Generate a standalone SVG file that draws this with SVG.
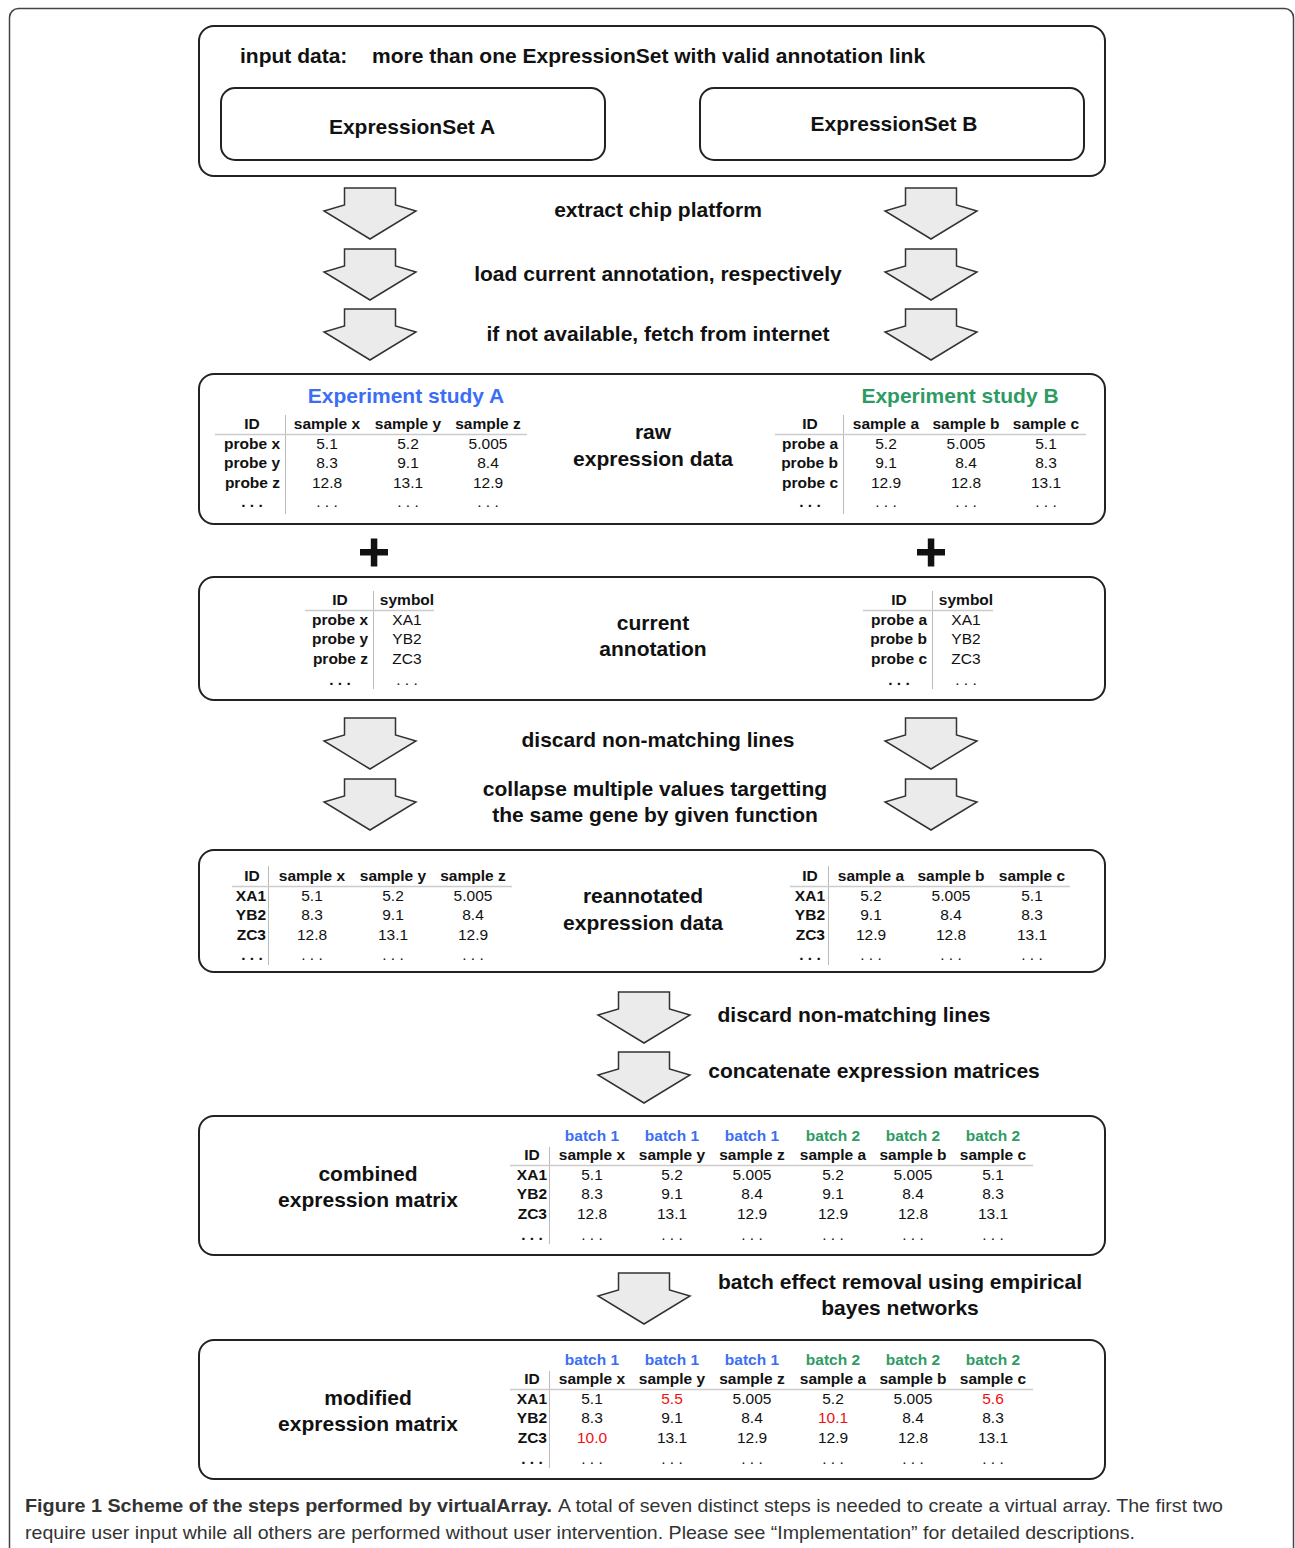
<svg xmlns="http://www.w3.org/2000/svg" xmlns:xlink="http://www.w3.org/1999/xlink" width="1295" height="1548" viewBox="0 0 1295 1548">
<style>
.box{fill:#fff;stroke:#222;stroke-width:2}
.lbl{font-family:"Liberation Sans",Arial,sans-serif;font-weight:bold;font-size:21px;fill:#111}
.c{text-anchor:middle}
.th{font-family:"Liberation Sans",Arial,sans-serif;font-weight:bold;font-size:15.5px;fill:#111;text-anchor:middle}
.rl{font-family:"Liberation Sans",Arial,sans-serif;font-weight:bold;font-size:15.5px;fill:#111;text-anchor:end}
.td{font-family:"Liberation Sans",Arial,sans-serif;font-size:15.5px;fill:#111;text-anchor:middle}
.red{fill:#f01010}
.blue{fill:#3c6ef5}
.green{fill:#2e9b64}
.vl{stroke:#bbb;stroke-width:1}
.hl{stroke:#ccc;stroke-width:1.5}
.arrow{fill:#ebebeb;stroke:#333;stroke-width:1.5;stroke-linejoin:miter}
.cap{font-family:"Liberation Sans",Arial,sans-serif;font-size:19px;fill:#333}
</style>
<defs>
<path id="arr" class="arrow" d="M-25.5,0 L25.5,0 L25.5,17 L46,23 L0,51 L-46,23 L-25.5,17 Z"/>
</defs>
<rect x="9.5" y="8.5" width="1284" height="1580" rx="9" fill="none" stroke="#444" stroke-width="1.5"/>

<g id="node-input">
<rect class="box" x="199" y="26" width="906" height="150" rx="15"/>
<text class="lbl" x="240" y="63">input data:</text>
<text class="lbl" x="372" y="63">more than one ExpressionSet with valid annotation link</text>
<rect class="box" x="221" y="88" width="384" height="72" rx="14"/>
<text class="lbl c" x="412" y="134">ExpressionSet A</text>
<rect class="box" x="700" y="88" width="384" height="72" rx="14"/>
<text class="lbl c" x="894" y="131">ExpressionSet B</text>
</g>

<g id="connectors">
<use xlink:href="#arr" href="#arr" x="370" y="188"/>
<use xlink:href="#arr" href="#arr" x="931" y="188"/>
<use xlink:href="#arr" href="#arr" x="370" y="249"/>
<use xlink:href="#arr" href="#arr" x="931" y="249"/>
<use xlink:href="#arr" href="#arr" x="370" y="309"/>
<use xlink:href="#arr" href="#arr" x="931" y="309"/>
<use xlink:href="#arr" href="#arr" x="370" y="718"/>
<use xlink:href="#arr" href="#arr" x="931" y="718"/>
<use xlink:href="#arr" href="#arr" x="370" y="779"/>
<use xlink:href="#arr" href="#arr" x="931" y="779"/>
<use xlink:href="#arr" href="#arr" x="644" y="992"/>
<use xlink:href="#arr" href="#arr" x="644" y="1052"/>
<use xlink:href="#arr" href="#arr" x="644" y="1273"/>
<g fill="#111">
<rect x="360" y="549" width="28" height="6.5"/>
<rect x="370.8" y="538.5" width="6.5" height="28"/>
<rect x="917" y="549" width="28" height="6.5"/>
<rect x="927.8" y="538.5" width="6.5" height="28"/>
</g>
</g>

<g id="step-labels">
<text class="lbl c" x="658" y="217">extract chip platform</text>
<text class="lbl c" x="658" y="281">load current annotation, respectively</text>
<text class="lbl c" x="658" y="341">if not available, fetch from internet</text>
<text class="lbl c" x="658" y="747">discard non-matching lines</text>
<text class="lbl c" x="655" y="796">collapse multiple values targetting</text>
<text class="lbl c" x="655" y="822">the same gene by given function</text>
<text class="lbl c" x="854" y="1022">discard non-matching lines</text>
<text class="lbl c" x="874" y="1078">concatenate expression matrices</text>
<text class="lbl c" x="900" y="1289">batch effect removal using empirical</text>
<text class="lbl c" x="900" y="1315">bayes networks</text>
</g>

<g id="node-raw">
<rect class="box" x="199" y="374" width="906" height="150" rx="15"/>
<text class="lbl c blue" x="406" y="403">Experiment study A</text>
<text class="lbl c green" x="960" y="403">Experiment study B</text>
<text class="lbl c" x="653" y="439">raw</text>
<text class="lbl c" x="653" y="466">expression data</text>
<line class="vl" x1="285.5" y1="415" x2="285.5" y2="514"/>
<line class="hl" x1="215" y1="434.5" x2="527" y2="434.5"/>
<text class="th" x="252" y="429">ID</text><text class="th" x="327" y="429">sample x</text><text class="th" x="408" y="429">sample y</text><text class="th" x="488" y="429">sample z</text>
<text class="rl" x="280" y="449">probe x</text><text class="td" x="327" y="449">5.1</text><text class="td" x="408" y="449">5.2</text><text class="td" x="488" y="449">5.005</text>
<text class="rl" x="280" y="468">probe y</text><text class="td" x="327" y="468">8.3</text><text class="td" x="408" y="468">9.1</text><text class="td" x="488" y="468">8.4</text>
<text class="rl" x="280" y="488">probe z</text><text class="td" x="327" y="488">12.8</text><text class="td" x="408" y="488">13.1</text><text class="td" x="488" y="488">12.9</text>
<text class="th" x="252" y="507">. . .</text><text class="td" x="327" y="507">. . .</text><text class="td" x="408" y="507">. . .</text><text class="td" x="488" y="507">. . .</text>
<line class="vl" x1="843.5" y1="415" x2="843.5" y2="514"/>
<line class="hl" x1="775" y1="434.5" x2="1086" y2="434.5"/>
<text class="th" x="810" y="429">ID</text><text class="th" x="886" y="429">sample a</text><text class="th" x="966" y="429">sample b</text><text class="th" x="1046" y="429">sample c</text>
<text class="rl" x="838" y="449">probe a</text><text class="td" x="886" y="449">5.2</text><text class="td" x="966" y="449">5.005</text><text class="td" x="1046" y="449">5.1</text>
<text class="rl" x="838" y="468">probe b</text><text class="td" x="886" y="468">9.1</text><text class="td" x="966" y="468">8.4</text><text class="td" x="1046" y="468">8.3</text>
<text class="rl" x="838" y="488">probe c</text><text class="td" x="886" y="488">12.9</text><text class="td" x="966" y="488">12.8</text><text class="td" x="1046" y="488">13.1</text>
<text class="th" x="810" y="507">. . .</text><text class="td" x="886" y="507">. . .</text><text class="td" x="966" y="507">. . .</text><text class="td" x="1046" y="507">. . .</text>
</g>

<g id="node-annotation">
<rect class="box" x="199" y="577" width="906" height="123" rx="15"/>
<text class="lbl c" x="653" y="630">current</text>
<text class="lbl c" x="653" y="656">annotation</text>
<line class="vl" x1="373.5" y1="591" x2="373.5" y2="689"/>
<line class="hl" x1="305" y1="610.5" x2="434" y2="610.5"/>
<text class="th" x="340" y="605">ID</text><text class="th" x="407" y="605">symbol</text>
<text class="rl" x="368" y="625">probe x</text><text class="td" x="407" y="625">XA1</text>
<text class="rl" x="368" y="644">probe y</text><text class="td" x="407" y="644">YB2</text>
<text class="rl" x="368" y="664">probe z</text><text class="td" x="407" y="664">ZC3</text>
<text class="th" x="340" y="685">. . .</text><text class="td" x="407" y="685">. . .</text>
<line class="vl" x1="932.5" y1="591" x2="932.5" y2="689"/>
<line class="hl" x1="863" y1="610.5" x2="993" y2="610.5"/>
<text class="th" x="899" y="605">ID</text><text class="th" x="966" y="605">symbol</text>
<text class="rl" x="927" y="625">probe a</text><text class="td" x="966" y="625">XA1</text>
<text class="rl" x="927" y="644">probe b</text><text class="td" x="966" y="644">YB2</text>
<text class="rl" x="927" y="664">probe c</text><text class="td" x="966" y="664">ZC3</text>
<text class="th" x="899" y="685">. . .</text><text class="td" x="966" y="685">. . .</text>
</g>

<g id="node-reannotated">
<rect class="box" x="199" y="850" width="906" height="122" rx="15"/>
<text class="lbl c" x="643" y="903">reannotated</text>
<text class="lbl c" x="643" y="930">expression data</text>
<line class="vl" x1="268.5" y1="866" x2="268.5" y2="965"/>
<line class="hl" x1="232" y1="886.5" x2="512" y2="886.5"/>
<text class="th" x="252" y="881">ID</text><text class="th" x="312" y="881">sample x</text><text class="th" x="393" y="881">sample y</text><text class="th" x="473" y="881">sample z</text>
<text class="rl" x="266" y="901">XA1</text><text class="td" x="312" y="901">5.1</text><text class="td" x="393" y="901">5.2</text><text class="td" x="473" y="901">5.005</text>
<text class="rl" x="266" y="920">YB2</text><text class="td" x="312" y="920">8.3</text><text class="td" x="393" y="920">9.1</text><text class="td" x="473" y="920">8.4</text>
<text class="rl" x="266" y="940">ZC3</text><text class="td" x="312" y="940">12.8</text><text class="td" x="393" y="940">13.1</text><text class="td" x="473" y="940">12.9</text>
<text class="th" x="252" y="960">. . .</text><text class="td" x="312" y="960">. . .</text><text class="td" x="393" y="960">. . .</text><text class="td" x="473" y="960">. . .</text>
<line class="vl" x1="828.5" y1="866" x2="828.5" y2="965"/>
<line class="hl" x1="790" y1="886.5" x2="1070" y2="886.5"/>
<text class="th" x="810" y="881">ID</text><text class="th" x="871" y="881">sample a</text><text class="th" x="951" y="881">sample b</text><text class="th" x="1032" y="881">sample c</text>
<text class="rl" x="825" y="901">XA1</text><text class="td" x="871" y="901">5.2</text><text class="td" x="951" y="901">5.005</text><text class="td" x="1032" y="901">5.1</text>
<text class="rl" x="825" y="920">YB2</text><text class="td" x="871" y="920">9.1</text><text class="td" x="951" y="920">8.4</text><text class="td" x="1032" y="920">8.3</text>
<text class="rl" x="825" y="940">ZC3</text><text class="td" x="871" y="940">12.9</text><text class="td" x="951" y="940">12.8</text><text class="td" x="1032" y="940">13.1</text>
<text class="th" x="810" y="960">. . .</text><text class="td" x="871" y="960">. . .</text><text class="td" x="951" y="960">. . .</text><text class="td" x="1032" y="960">. . .</text>
</g>

<g id="node-combined">
<rect class="box" x="199" y="1116" width="906" height="139" rx="15"/>
<text class="lbl c" x="368" y="1181">combined</text>
<text class="lbl c" x="368" y="1207">expression matrix</text>
<line class="vl" x1="549.5" y1="1147" x2="549.5" y2="1244"/>
<line class="hl" x1="510" y1="1165.5" x2="1033" y2="1165.5"/>
<text class="th blue" x="592" y="1141">batch 1</text><text class="th blue" x="672" y="1141">batch 1</text><text class="th blue" x="752" y="1141">batch 1</text><text class="th green" x="833" y="1141">batch 2</text><text class="th green" x="913" y="1141">batch 2</text><text class="th green" x="993" y="1141">batch 2</text>
<text class="th" x="532" y="1160">ID</text><text class="th" x="592" y="1160">sample x</text><text class="th" x="672" y="1160">sample y</text><text class="th" x="752" y="1160">sample z</text><text class="th" x="833" y="1160">sample a</text><text class="th" x="913" y="1160">sample b</text><text class="th" x="993" y="1160">sample c</text>
<text class="rl" x="547" y="1180">XA1</text><text class="td" x="592" y="1180">5.1</text><text class="td" x="672" y="1180">5.2</text><text class="td" x="752" y="1180">5.005</text><text class="td" x="833" y="1180">5.2</text><text class="td" x="913" y="1180">5.005</text><text class="td" x="993" y="1180">5.1</text>
<text class="rl" x="547" y="1199">YB2</text><text class="td" x="592" y="1199">8.3</text><text class="td" x="672" y="1199">9.1</text><text class="td" x="752" y="1199">8.4</text><text class="td" x="833" y="1199">9.1</text><text class="td" x="913" y="1199">8.4</text><text class="td" x="993" y="1199">8.3</text>
<text class="rl" x="547" y="1219">ZC3</text><text class="td" x="592" y="1219">12.8</text><text class="td" x="672" y="1219">13.1</text><text class="td" x="752" y="1219">12.9</text><text class="td" x="833" y="1219">12.9</text><text class="td" x="913" y="1219">12.8</text><text class="td" x="993" y="1219">13.1</text>
<text class="th" x="532" y="1240">. . .</text><text class="td" x="592" y="1240">. . .</text><text class="td" x="672" y="1240">. . .</text><text class="td" x="752" y="1240">. . .</text><text class="td" x="833" y="1240">. . .</text><text class="td" x="913" y="1240">. . .</text><text class="td" x="993" y="1240">. . .</text>
</g>

<g id="node-modified">
<rect class="box" x="199" y="1340" width="906" height="139" rx="15"/>
<text class="lbl c" x="368" y="1405">modified</text>
<text class="lbl c" x="368" y="1431">expression matrix</text>
<line class="vl" x1="549.5" y1="1371" x2="549.5" y2="1468"/>
<line class="hl" x1="510" y1="1389.5" x2="1033" y2="1389.5"/>
<text class="th blue" x="592" y="1365">batch 1</text><text class="th blue" x="672" y="1365">batch 1</text><text class="th blue" x="752" y="1365">batch 1</text><text class="th green" x="833" y="1365">batch 2</text><text class="th green" x="913" y="1365">batch 2</text><text class="th green" x="993" y="1365">batch 2</text>
<text class="th" x="532" y="1384">ID</text><text class="th" x="592" y="1384">sample x</text><text class="th" x="672" y="1384">sample y</text><text class="th" x="752" y="1384">sample z</text><text class="th" x="833" y="1384">sample a</text><text class="th" x="913" y="1384">sample b</text><text class="th" x="993" y="1384">sample c</text>
<text class="rl" x="547" y="1404">XA1</text><text class="td" x="592" y="1404">5.1</text><text class="td red" x="672" y="1404">5.5</text><text class="td" x="752" y="1404">5.005</text><text class="td" x="833" y="1404">5.2</text><text class="td" x="913" y="1404">5.005</text><text class="td red" x="993" y="1404">5.6</text>
<text class="rl" x="547" y="1423">YB2</text><text class="td" x="592" y="1423">8.3</text><text class="td" x="672" y="1423">9.1</text><text class="td" x="752" y="1423">8.4</text><text class="td red" x="833" y="1423">10.1</text><text class="td" x="913" y="1423">8.4</text><text class="td" x="993" y="1423">8.3</text>
<text class="rl" x="547" y="1443">ZC3</text><text class="td red" x="592" y="1443">10.0</text><text class="td" x="672" y="1443">13.1</text><text class="td" x="752" y="1443">12.9</text><text class="td" x="833" y="1443">12.9</text><text class="td" x="913" y="1443">12.8</text><text class="td" x="993" y="1443">13.1</text>
<text class="th" x="532" y="1464">. . .</text><text class="td" x="592" y="1464">. . .</text><text class="td" x="672" y="1464">. . .</text><text class="td" x="752" y="1464">. . .</text><text class="td" x="833" y="1464">. . .</text><text class="td" x="913" y="1464">. . .</text><text class="td" x="993" y="1464">. . .</text>
</g>

<g id="caption">
<text class="cap" x="25" y="1512" font-weight="bold" fill="#222" textLength="527" lengthAdjust="spacingAndGlyphs">Figure 1 Scheme of the steps performed by virtualArray.</text>
<text class="cap" x="558" y="1512" textLength="665" lengthAdjust="spacingAndGlyphs">A total of seven distinct steps is needed to create a virtual array. The first two</text>
<text class="cap" x="25" y="1539" textLength="1110" lengthAdjust="spacingAndGlyphs">require user input while all others are performed without user intervention. Please see “Implementation” for detailed descriptions.</text>
</g>
</svg>
